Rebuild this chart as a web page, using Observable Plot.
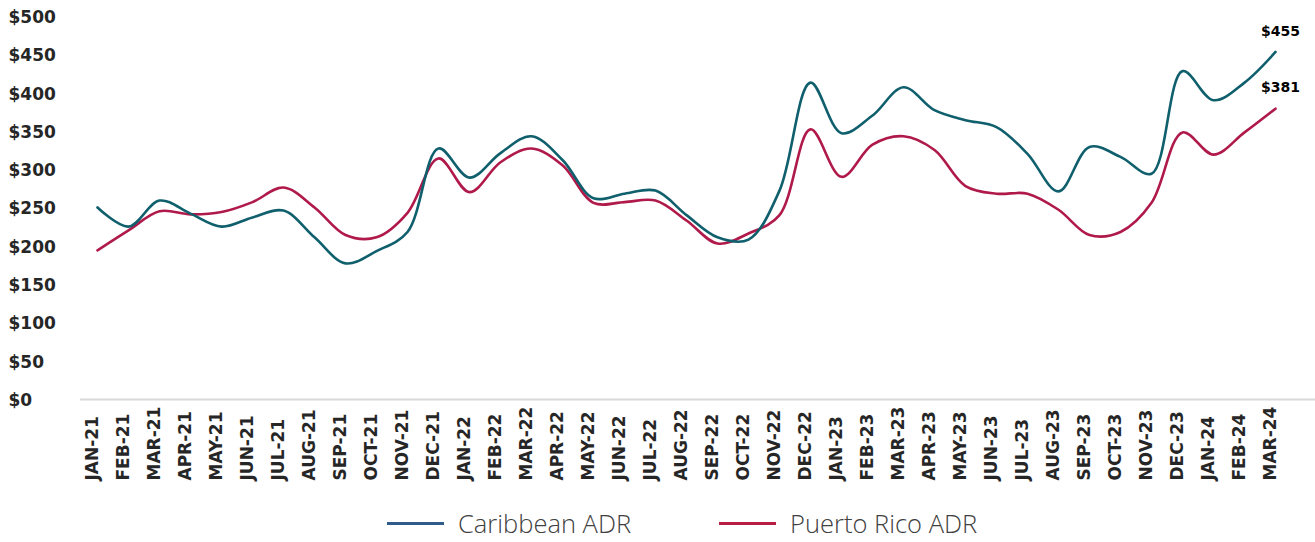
<!DOCTYPE html>
<html>
<head>
<meta charset="utf-8">
<script src="https://cdn.jsdelivr.net/npm/d3@7"></script>
<script src="https://cdn.jsdelivr.net/npm/@observablehq/plot@0.6"></script>
<style>
  html, body { margin: 0; padding: 0; background: #fff; overflow: hidden; }
  #chart svg { display: block; }
  .legend { display: flex; justify-content: flex-start; align-items: center; height: 26px; margin-top: 10px;
            padding-left: 387px; line-height: 26px;
            font-family: "Open Sans", "Lato", sans-serif; font-weight: 300; font-size: 25.5px; color: #404040; }
  .legend .item { display: flex; align-items: center; }
  .legend .sw { width: 57px; height: 3px; margin-right: 14px; }
</style>
</head>
<body>
<div id="chart"></div>
<div class="legend" id="legend"></div>
<script>
// Monthly average daily rate, Jan 2021 – Mar 2024
const months = [
  "JAN-21","FEB-21","MAR-21","APR-21","MAY-21","JUN-21","JUL-21","AUG-21","SEP-21","OCT-21","NOV-21","DEC-21",
  "JAN-22","FEB-22","MAR-22","APR-22","MAY-22","JUN-22","JUL-22","AUG-22","SEP-22","OCT-22","NOV-22","DEC-22",
  "JAN-23","FEB-23","MAR-23","APR-23","MAY-23","JUN-23","JUL-23","AUG-23","SEP-23","OCT-23","NOV-23","DEC-23",
  "JAN-24","FEB-24","MAR-24"
];
const caribbeanADR = [
  252,227,261,244,227,239,248,213,179,195,220,329,
  291,323,345,314,264,270,274,242,213,210,274,415,
  349,372,409,379,366,357,322,273,331,318,296,430,
  392,415,455
];
const puertoRicoADR = [
  196,222,247,243,246,259,278,252,216,213,245,316,
  272,311,329,307,258,259,261,235,205,218,242,354,
  292,334,345,327,280,270,270,249,216,220,258,350,
  321,350,381
];
const yTicks = [0,50,100,150,200,250,300,350,400,450,500];

const seriesNames = ["Caribbean ADR", "Puerto Rico ADR"];
const lineColors = ["#0f5f6d", "#b01a4b"];
const swatchColors = ["#2f5c8a", "#b81d44"];

const caribbean = months.map((m, i) => ({month: m, value: caribbeanADR[i]}));
const puertoRico = months.map((m, i) => ({month: m, value: puertoRicoADR[i]}));
const lastC = caribbean[caribbean.length - 1];
const lastP = puertoRico[puertoRico.length - 1];

const fmt = v => "$" + v;
const boldFont = "DejaVu Sans, sans-serif";

const chart = Plot.plot({
  width: 1315,
  height: 500,
  marginTop: 17,
  marginBottom: 100,
  marginLeft: 80,
  marginRight: 0,
  x: {type: "point", domain: months, range: [92, 1280], padding: 0, axis: null},
  y: {domain: [0, 500], axis: null},
  style: {fontFamily: boldFont, background: "#fff"},
  marks: [
    Plot.ruleY([0], {stroke: "#d9d9d9", strokeWidth: 2, dy: -1}),
    // y tick labels, left aligned
    Plot.text(yTicks, {y: d => d, text: fmt, frameAnchor: "left", textAnchor: "start", dx: -72,
      fontSize: 17, fontWeight: "bold", fill: "#262626"}),
    // x tick labels, rotated, bottom aligned
    Plot.text(months, {x: d => d, text: d => d, frameAnchor: "bottom", rotate: -90, textAnchor: "start",
      dy: 80, fontSize: 17, fontWeight: "bold", fill: "#262626"}),
    Plot.line(puertoRico, {x: "month", y: "value", stroke: lineColors[1], strokeWidth: 2.6, curve: "catmull-rom"}),
    Plot.line(caribbean, {x: "month", y: "value", stroke: lineColors[0], strokeWidth: 2.6, curve: "catmull-rom"}),
    Plot.text([lastC], {x: "month", y: "value", text: d => fmt(d.value), dy: -20, dx: 5,
      fontSize: 14, fontWeight: "bold", fill: "#000"}),
    Plot.text([lastP], {x: "month", y: "value", text: d => fmt(d.value), dy: -21, dx: 5,
      fontSize: 14, fontWeight: "bold", fill: "#000"})
  ]
});
document.getElementById("chart").appendChild(chart);

const legend = d3.select("#legend");
seriesNames.forEach((name, i) => {
  const item = legend.append("div").attr("class", "item").style("margin-left", i ? "88px" : "0");
  item.append("div").attr("class", "sw").style("background", swatchColors[i]);
  item.append("span").text(name);
});
</script>
</body>
</html>
